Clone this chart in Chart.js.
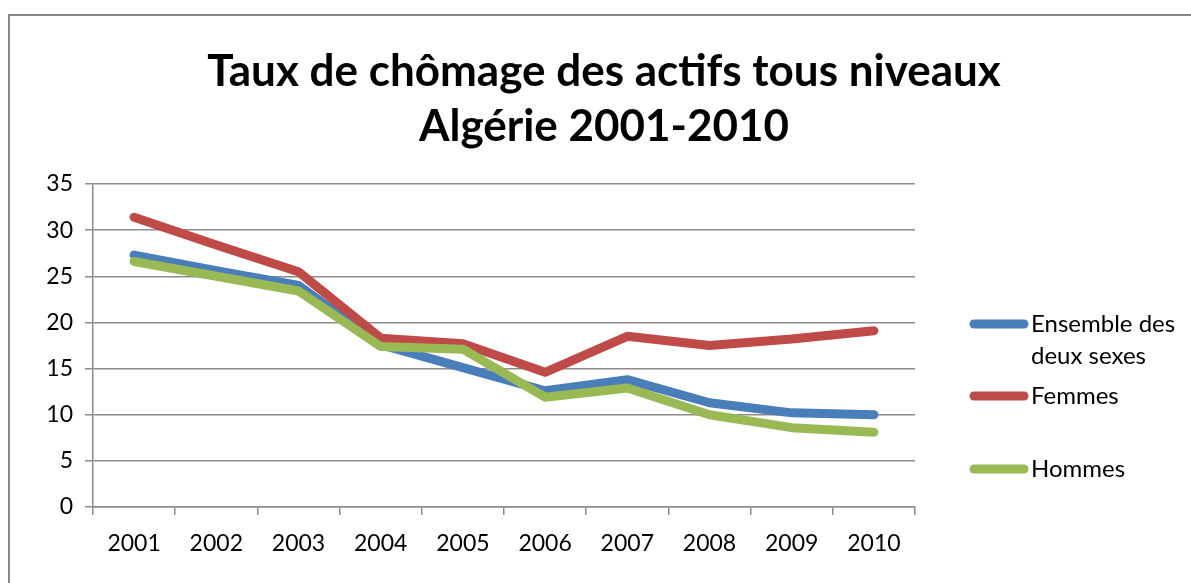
<!DOCTYPE html>
<html>
<head>
<meta charset="utf-8">
<script src="https://cdn.jsdelivr.net/npm/chart.js@4.4.0/dist/chart.umd.min.js"></script>
<style>
  html, body { margin: 0; padding: 0; background: #fff; overflow: hidden; width: 1191px; height: 583px; }
  #frame { position: absolute; left: 8px; top: 14px; width: 1192px; height: 600px; border-left: 2px solid #8a8a8a; border-top: 2px solid #8a8a8a; box-sizing: border-box; }
  #chart { position: absolute; left: 8px; top: 14px; }
</style>
</head>
<body>
<div id="frame"></div>
<canvas id="chart" width="1192" height="569"></canvas>
<script>
const years = ['2001', '2002', '2003', '2004', '2005', '2006', '2007', '2008', '2009', '2010'];
const ensemble = [27.3, 25.6, 24.0, 17.6, 15.1, 12.6, 13.8, 11.3, 10.2, 10.0];
const femmes = [31.4, 28.4, 25.5, 18.3, 17.7, 14.6, 18.5, 17.5, 18.2, 19.1];
const hommes = [26.6, 25.0, 23.4, 17.4, 17.1, 11.9, 12.9, 10.0, 8.6, 8.1];
const yTicks = [0, 5, 10, 15, 20, 25, 30, 35];

const gridColor = '#8c8c8c';
const fontFamily = 'Lato, "Open Sans", sans-serif';

// legend drawn by hand, Excel style (line sample + wrapped text)
const sideLegend = {
  id: 'sideLegend',
  afterDraw(chart) {
    const ctx = chart.ctx;
    const items = [
      { ds: 0, y: 310, lines: ['Ensemble des', 'deux sexes'] },
      { ds: 1, y: 382, lines: ['Femmes'] },
      { ds: 2, y: 455, lines: ['Hommes'] }
    ];
    ctx.save();
    ctx.font = '24px ' + fontFamily;
    ctx.textBaseline = 'middle';
    ctx.fillStyle = '#000';
    items.forEach(it => {
      const ds = chart.data.datasets[it.ds];
      ctx.strokeStyle = ds.borderColor;
      ctx.lineWidth = 9;
      ctx.lineCap = 'round';
      ctx.beginPath();
      ctx.moveTo(966, it.y);
      ctx.lineTo(1016, it.y);
      ctx.stroke();
      it.lines.forEach((t, i) => ctx.fillText(t, 1023, it.y + i * 32));
    });
    ctx.restore();
  }
};

new Chart(document.getElementById('chart'), {
  type: 'line',
  data: {
    labels: years,
    datasets: [
      { label: 'Ensemble des deux sexes', data: ensemble, borderColor: '#4a7ebb', order: 3 },
      { label: 'Femmes', data: femmes, borderColor: '#be4b48', order: 2 },
      { label: 'Hommes', data: hommes, borderColor: '#98b954', order: 1 }
    ]
  },
  options: {
    responsive: false,
    animation: false,
    layout: { padding: 0 },
    elements: {
      line: { borderWidth: 9, tension: 0, borderCapStyle: 'round', borderJoinStyle: 'round', fill: false },
      point: { radius: 0, hoverRadius: 0 }
    },
    plugins: {
      legend: { display: false },
      tooltip: { enabled: false },
      title: {
        display: true,
        text: ['Taux de chômage des actifs tous niveaux', 'Algérie 2001-2010'],
        color: '#000',
        font: { family: fontFamily, size: 44, weight: 'bold', lineHeight: 1.25 },
        padding: { top: 30, bottom: 30 }
      }
    },
    scales: {
      x: {
        offset: true,
        grid: { offset: true, drawOnChartArea: false, drawTicks: true, tickLength: 8, color: gridColor, lineWidth: 1.5 },
        border: { color: gridColor, width: 1.5 },
        ticks: { color: '#000', font: { family: fontFamily, size: 23 }, padding: 15, maxRotation: 0 },
        afterFit(scale) { scale.height = 76; }
      },
      y: {
        min: 0,
        max: 35,
        afterBuildTicks(scale) { scale.ticks = yTicks.map(v => ({ value: v })); },
        grid: { color: gridColor, lineWidth: 1.5, tickLength: 8 },
        border: { color: gridColor, width: 1.5 },
        ticks: { color: '#000', font: { family: fontFamily, size: 23 }, padding: 12 },
        afterFit(scale) { scale.width = 85; }
      },
      // empty right-hand axis that keeps room for the legend
      legendSpace: {
        position: 'right',
        type: 'linear',
        grid: { display: false },
        border: { display: false },
        ticks: { display: false },
        afterFit(scale) { scale.width = 285; }
      }
    }
  },
  plugins: [sideLegend]
});
</script>
</body>
</html>
